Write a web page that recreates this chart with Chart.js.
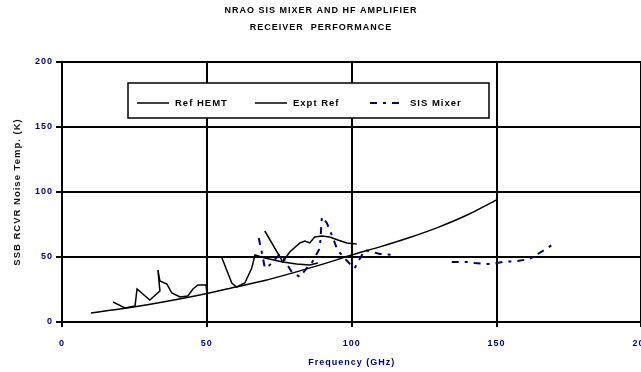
<!DOCTYPE html>
<html>
<head>
<meta charset="utf-8">
<script src="https://cdn.jsdelivr.net/npm/chart.js@4"></script>
<style>
  html, body { margin: 0; padding: 0; background: #fff; overflow: hidden; }
  #wrap { width: 660px; height: 372px; }
</style>
</head>
<body>
<div id="wrap"><canvas id="myChart" width="660" height="372"></canvas></div>
<script>
// reference HEMT curve
const freqHemt = [10, 20, 30, 40, 50, 60, 70, 80, 90, 100, 110, 120, 130, 140, 150];
const tempHemt = [7, 10, 13.5, 17.5, 22, 27, 32, 38, 44.5, 51.5, 58, 65, 73, 82.5, 94];

// measured receiver (null = break in the trace)
const freqExpt = [17.6, 21.7, 25.2, 25.9, 30.3, 33.8, 33.1, 33.8, 36.2, 37.9, 40.7, 43.4, 45.2, 46.9, 49.7, 50,
  null,
  55.2, 58.6, 60.3, 63.1, 65.5, 66.6, 70, 76.2, 81, 85.5, 88.3,
  null,
  70, 76.2, 78.6, 82.1, 83.8, 85.5, 87.2, 89.7, 92.4, 95.2, 98.3, 101.7];
const tempExpt = [15.4, 10.8, 12.3, 25.4, 16.9, 23.8, 40, 31.5, 29.2, 22.3, 19.2, 20, 25.4, 28.5, 28.5, 22.3,
  null,
  49.2, 30, 26.9, 30, 41.5, 51.5, 49.2, 46.2, 44.6, 43.8, 45.4,
  null,
  70, 46.2, 53.8, 60.8, 62.3, 60.8, 65.4, 66.2, 65.4, 63.1, 60.8, 60];

// SIS mixer
const freqSis = [67.9, 69.3, 70, 71.7, 75.2, 75.9, 79.3, 82.1, 84.8, 86.2, 89, 89.7, 91.4, 93.4, 94.8, 95.9,
  100, 101, 104.5, 107.2, 109.7, 115.5,
  null,
  134.5, 139.7, 142.4, 145.9, 148.3, 152.1, 157.2, 161.4, 167.6, 170];
const tempSis = [64.6, 50, 41.5, 43.8, 52.3, 50.8, 38.5, 34.6, 42.3, 45.4, 56.9, 80.8, 76.2, 65.4, 56.9, 53.1,
  43.1, 41.5, 55.4, 53.8, 52.3, 51.5,
  null,
  46.2, 46.2, 45.4, 44.6, 44.6, 46.2, 46.9, 48.5, 56.9, 60.8];

const seriesNames = ["Ref HEMT", "Expt Ref", "SIS Mixer"];
const titleLines = ["NRAO SIS MIXER AND HF AMPLIFIER", "RECEIVER  PERFORMANCE"];

const navy = "#000080";
const fontFam = "'Liberation Sans', Arial, sans-serif";

function pts(xs, ys) {
  return xs.map((x, i) => ({ x: x === null ? NaN : x, y: ys[i] }));
}

// the old chart font is wide, so spread the letters a bit
const spacing = {
  id: "spacing",
  beforeDraw(chart) { chart.ctx.letterSpacing = "1px"; },
  afterDraw(chart) { chart.ctx.letterSpacing = "0px"; }
};

// legend inside the plot, with a white box
const boxLegend = {
  id: "boxLegend",
  afterDatasetsDraw(chart) {
    const ctx = chart.ctx;
    const bx = 128, by = 83, bw = 361, bh = 35;
    ctx.save();
    ctx.fillStyle = "#fff";
    ctx.fillRect(bx, by, bw, bh);
    ctx.strokeStyle = "#000";
    ctx.lineWidth = 1.5;
    ctx.strokeRect(bx, by, bw, bh);
    const items = [[137, 175], [255, 293], [370, 410]];
    const y = 103;
    chart.data.datasets.forEach((ds, i) => {
      ctx.beginPath();
      ctx.strokeStyle = ds.borderColor;
      ctx.lineWidth = ds.borderWidth;
      ctx.setLineDash(ds.borderDash || []);
      ctx.moveTo(items[i][0], y);
      ctx.lineTo(items[i][0] + 32, y);
      ctx.stroke();
      ctx.setLineDash([]);
      ctx.fillStyle = "#000";
      ctx.font = "bold 9.5px " + fontFam;
      ctx.textBaseline = "middle";
      ctx.fillText(ds.label, items[i][1], y);
    });
    ctx.restore();
  }
};

const ctx = document.getElementById("myChart").getContext("2d");
const chart = new Chart(ctx, {
  type: "line",
  data: {
    datasets: [
      {
        label: seriesNames[0],
        data: pts(freqHemt, tempHemt),
        borderColor: "#000",
        borderWidth: 1.5,
        pointRadius: 0,
        tension: 0.3
      },
      {
        label: seriesNames[1],
        data: pts(freqExpt, tempExpt),
        borderColor: "#000",
        borderWidth: 1.5,
        pointRadius: 0,
        spanGaps: false
      },
      {
        label: seriesNames[2],
        data: pts(freqSis, tempSis),
        borderColor: navy,
        backgroundColor: navy,
        borderWidth: 2,
        borderDash: [7, 6, 3, 6],
        pointRadius: 0,
        spanGaps: false
      }
    ]
  },
  options: {
    responsive: false,
    animation: false,
    parsing: false,
    layout: { padding: { left: 0, right: 18, top: 0, bottom: 0 } },
    plugins: {
      legend: { display: false },
      tooltip: { enabled: false },
      title: {
        display: true,
        text: titleLines,
        color: "#000",
        font: { family: fontFam, size: 9, weight: "bold", lineHeight: 1.9 },
        padding: { top: 2, bottom: 25.8 }
      }
    },
    scales: {
      x: {
        type: "linear",
        min: 0,
        max: 200,
        ticks: {
          stepSize: 50,
          color: navy,
          padding: 11,
          maxRotation: 0,
          font: { family: fontFam, size: 9, weight: "bold" }
        },
        grid: { color: "#000", lineWidth: 2, tickLength: 5 },
        border: { color: "#000", width: 2 },
        title: {
          display: true,
          text: "Frequency (GHz)",
          color: navy,
          font: { family: fontFam, size: 9, weight: "bold" },
          padding: { top: 0, bottom: 4 }
        },
        afterFit(scale) { scale.height = 50; }
      },
      y: {
        min: 0,
        max: 200,
        ticks: {
          stepSize: 50,
          color: navy,
          padding: 3,
          font: { family: fontFam, size: 9, weight: "bold" }
        },
        grid: { color: "#000", lineWidth: 2, tickLength: 6 },
        border: { color: "#000", width: 2 },
        title: {
          display: true,
          text: "SSB RCVR Noise Temp. (K)",
          color: "#111",
          font: { family: fontFam, size: 9.5, weight: "bold" },
          padding: { top: 12, bottom: 0 }
        },
        afterFit(scale) { scale.width = 62; }
      }
    }
  },
  plugins: [spacing, boxLegend]
});
</script>
</body>
</html>
